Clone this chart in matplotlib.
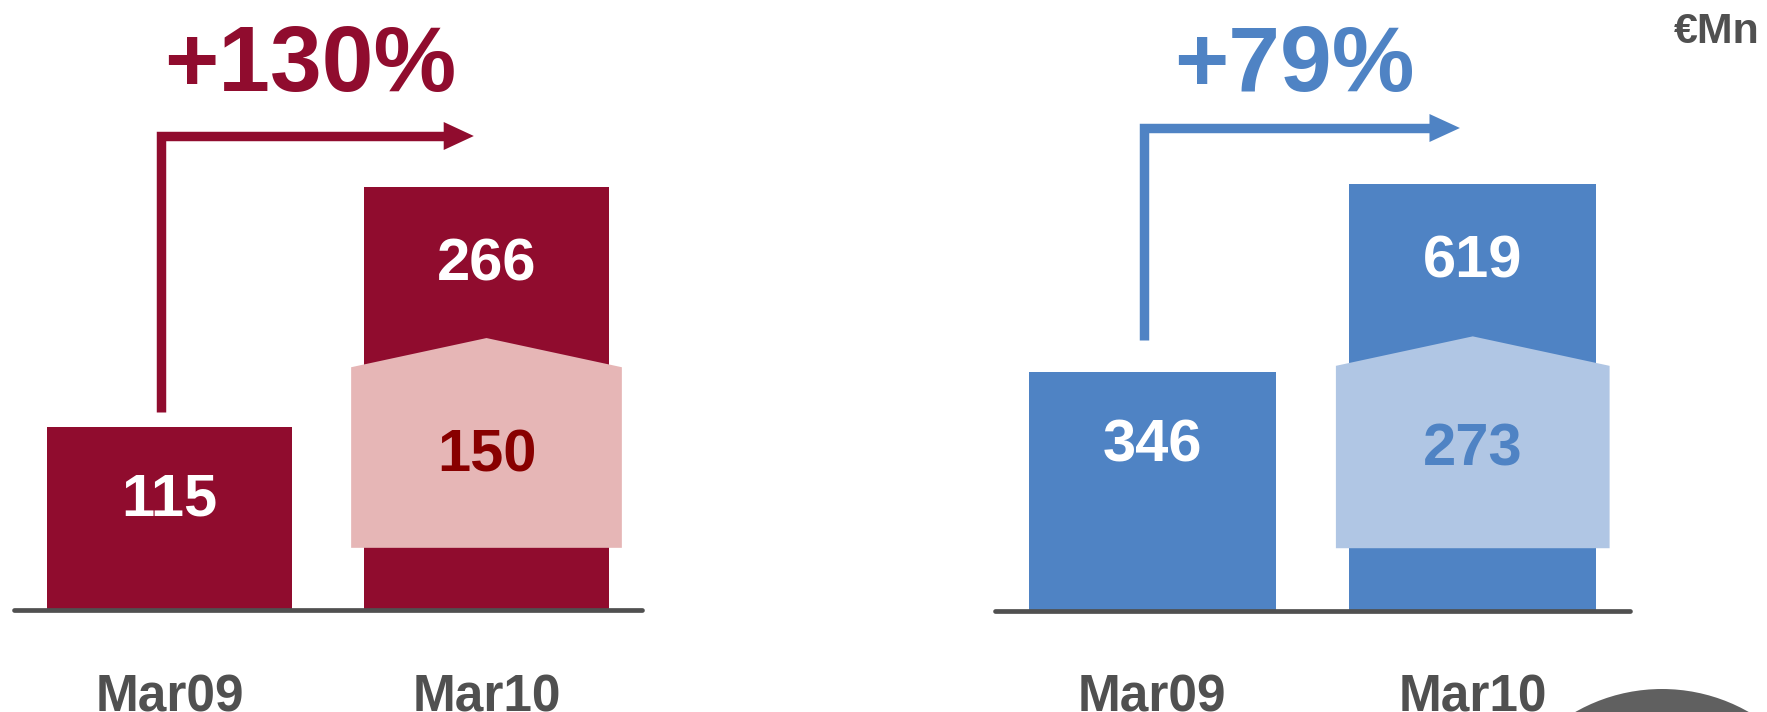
import matplotlib.pyplot as plt
from matplotlib import font_manager
from matplotlib.patches import Polygon, Ellipse

# данные
categories = ["Mar09", "Mar10"]
left_values = [115, 266]
left_increment = 150
left_growth = "+130%"
right_values = [346, 619]
right_increment = 273
right_growth = "+79%"
unit_label = "€Mn"

# цвета
dark_red = "#900C2E"
pink = "#E6B6B6"
red_text = "#880000"
blue = "#4F83C4"
light_blue = "#B0C6E4"
grey = "#505050"

names = {f.name for f in font_manager.fontManager.ttflist}
if "Liberation Sans Narrow" in names:
    cat_font, cat_size = "Liberation Sans Narrow", 44
else:
    cat_font, cat_size = "Liberation Sans", 37

plt.rcParams['font.family'] = ['Liberation Sans', 'DejaVu Sans']

W, H = 1767, 712
fig = plt.figure(figsize=(W / 100, H / 100), dpi=100)


def panel(rect, base_px, scale, values, increment, growth, main_col, light_col, inc_col,
          label_px, arrow_gap, arrow_px):
    # base_px - положение базовой линии (пиксели сверху), scale - пикселей на единицу
    ax = fig.add_axes(rect)
    ax.set_xlim(-0.5, 1.5)
    ax.set_ylim(0, base_px / scale)
    ax.axis("off")
    ax.bar([0, 1], values, width=0.77, color=main_col, zorder=2)

    def y(px):
        return (base_px - px) / scale

    # пятиугольник с приростом
    top = values[1]
    px = [1 - 0.427, 1 - 0.427, 1, 1 + 0.427, 1 + 0.427]
    py = [0.147 * top, 0.574 * top, 0.643 * top, 0.574 * top, 0.147 * top]
    ax.add_patch(Polygon(list(zip(px, py)), closed=True, color=light_col, zorder=3, lw=0))

    kw = dict(ha="center", va="baseline", fontsize=43, fontweight="bold", zorder=4)
    ax.text(0, y(label_px[0]), str(values[0]), color="white", **kw)
    ax.text(1, y(label_px[1]), str(values[1]), color="white", **kw)
    ax.text(1, y(label_px[2]), str(increment), color=inc_col, **kw)

    # стрелка
    ay = y(arrow_px)
    hh = 14 / scale
    ax.plot([-0.026, -0.026, 0.87], [values[0] + arrow_gap / scale, ay, ay], color=main_col,
            lw=6.8, solid_joinstyle="miter", solid_capstyle="butt", zorder=2)
    ax.add_patch(Polygon([(0.865, ay - hh), (0.96, ay), (0.865, ay + hh)],
                         closed=True, color=main_col, lw=0))
    ax.text(0.445, y(91), growth, ha="center", va="baseline", color=main_col,
            fontsize=67, fontweight="bold")

    # базовая линия
    ax.plot([-0.49, 1.49], [0, 0], color=grey, lw=3.4, solid_capstyle="round",
            clip_on=False, zorder=5)
    for i, c in enumerate(categories):
        ax.text(i, y(673), c, ha="center", va="top", color=grey,
                fontsize=cat_size, fontweight="bold", family=cat_font, clip_on=False)
    return ax


axl = panel([11 / W, 102 / H, 634 / W, 610 / H], 610, 1.59, left_values, left_increment,
            left_growth, dark_red, pink, red_text, [515, 281, 471], 15, 136)
axr = panel([992 / W, 101 / H, 641 / W, 611 / H], 611, 0.69, right_values, right_increment,
            right_growth, blue, light_blue, blue, [462, 277, 465], 32, 128)

fig.text(1760 / W, 1 - 43 / H, unit_label, ha="right", va="baseline", color=grey,
         fontsize=31, fontweight="bold")

fig.add_artist(Ellipse((1662 / W, -152 / H), 350 / W, 350 / H,
                       transform=fig.transFigure, color="#606060", lw=0))

fig.savefig("out.png", dpi=100, facecolor="white")
